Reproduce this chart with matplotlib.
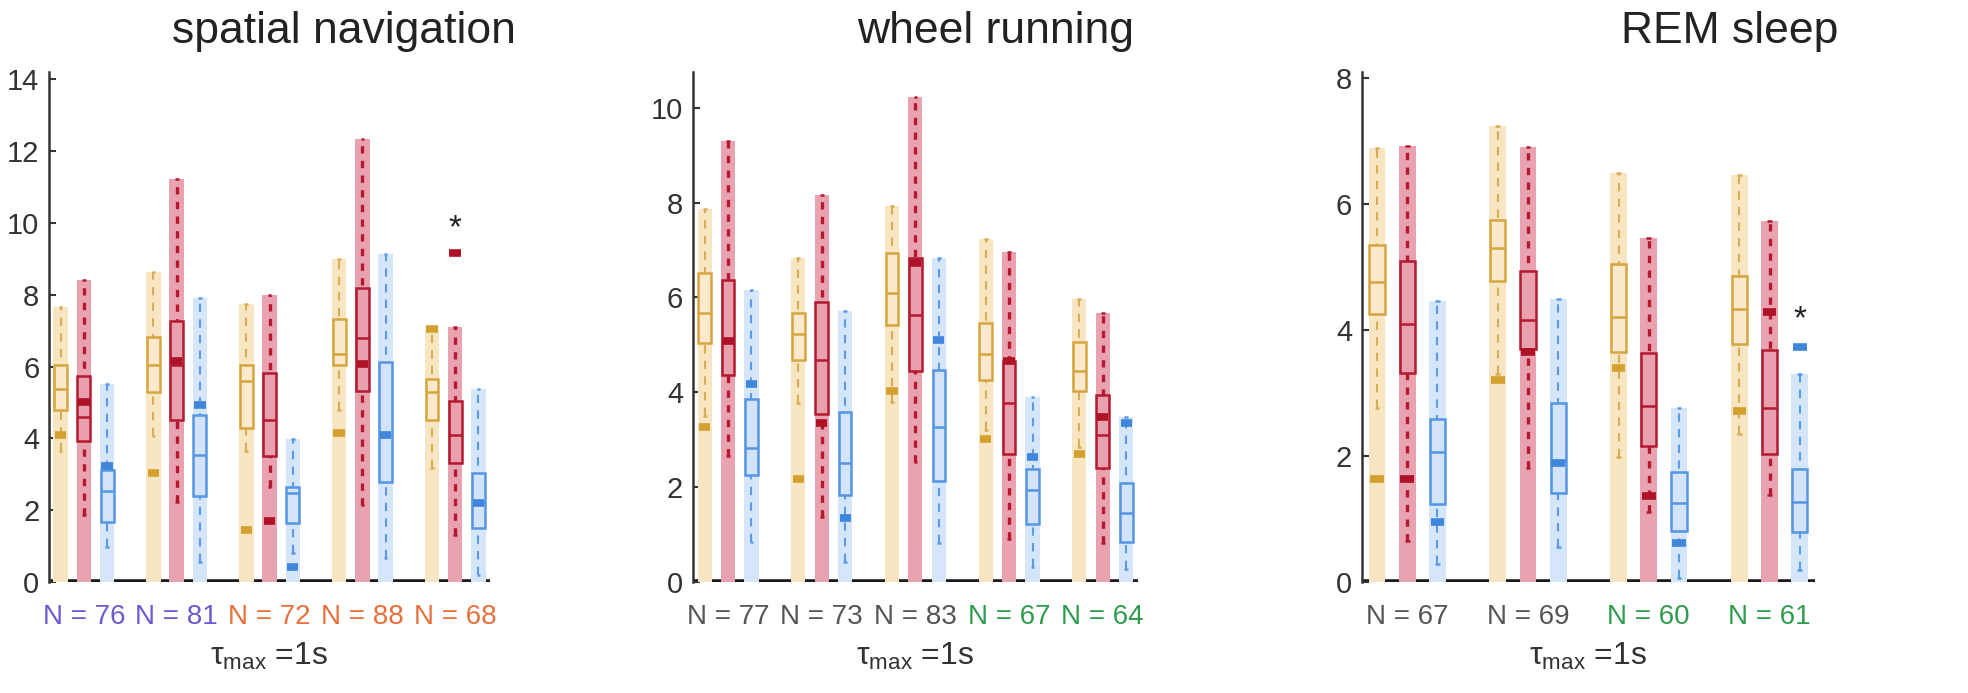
import matplotlib.pyplot as plt

plt.rcParams['font.family'] = ['Liberation Sans', 'DejaVu Sans']

# ---- data: per panel, per group -> [yellow, red, blue] ----
# spatial navigation
nav_lo  = [[3.64, 1.86, 0.97], [4.06, 2.23, 0.55], [3.64, 2.64, 0.81], [4.78, 2.15, 0.67], [3.18, 1.32, 0.20]]
nav_q1  = [[4.80, 3.92, 1.66], [5.30, 4.50, 2.39], [4.29, 3.52, 1.64], [6.05, 5.31, 2.78], [4.50, 3.33, 1.50]]
nav_med = [[5.38, 4.61, 2.55], [6.04, 6.05, 3.55], [5.59, 4.50, 2.48], [6.35, 6.79, 4.10], [5.28, 4.10, 2.20]]
nav_q3  = [[6.05, 5.75, 3.11], [6.82, 7.28, 4.66], [6.05, 5.82, 2.66], [7.32, 8.18, 6.12], [5.65, 5.03, 3.04]]
nav_hi  = [[7.65, 8.41, 5.52], [8.63, 11.22, 7.92], [7.74, 7.99, 3.99], [9.00, 12.34, 9.13], [7.05, 7.11, 5.38]]
nav_mk  = [[4.10, 5.02, 3.22], [3.04, 6.15, 4.94], [1.46, 1.69, 0.41], [4.15, 6.08, 4.10], [7.05, 9.15, 2.20]]
nav_n = [76, 81, 72, 88, 68]
nav_ncol = ['#6a5cd0', '#6a5cd0', '#e8703a', '#e8703a', '#e8703a']
nav_star = [(4, 1, 9.85)]

# wheel running
whl_lo  = [[3.50, 2.66, 0.85], [3.77, 1.38, 0.43], [3.80, 2.54, 0.82], [3.20, 0.90, 0.32], [2.85, 0.83, 0.27]]
whl_q1  = [[5.05, 4.37, 2.26], [4.68, 3.54, 1.84], [5.42, 4.46, 2.14], [4.25, 2.71, 1.22], [4.02, 2.40, 0.85]]
whl_med = [[5.68, 5.10, 2.82], [5.23, 4.68, 2.52], [6.10, 5.63, 3.26], [4.81, 3.78, 1.94], [4.44, 3.10, 1.46]]
whl_q3  = [[6.51, 6.36, 3.87], [5.67, 5.91, 3.59], [6.93, 6.83, 4.47], [5.46, 4.65, 2.38], [5.07, 3.95, 2.08]]
whl_hi  = [[7.86, 9.30, 6.15], [6.83, 8.16, 5.72], [7.92, 10.22, 6.83], [7.23, 6.95, 3.90], [5.96, 5.68, 3.47]]
whl_mk  = [[3.27, 5.08, 4.17], [2.17, 3.36, 1.36], [4.02, 6.72, 5.11], [3.01, 4.67, 2.63], [2.69, 3.47, 3.36]]
whl_n = [77, 73, 83, 67, 64]
whl_ncol = ['#555555', '#555555', '#555555', '#2e9c4e', '#2e9c4e']
whl_star = []

# REM sleep
rem_lo  = [[2.77, 0.65, 0.29], [3.30, 1.81, 0.56], [1.99, 1.12, 0.07], [2.35, 1.39, 0.20]]
rem_q1  = [[4.26, 3.32, 1.24], [4.78, 3.70, 1.41], [3.65, 2.16, 0.81], [3.78, 2.04, 0.79]]
rem_med = [[4.76, 4.10, 2.06], [5.31, 4.16, 1.92], [4.21, 2.80, 1.25], [4.34, 2.77, 1.27]]
rem_q3  = [[5.35, 5.10, 2.59], [5.75, 4.94, 2.84], [5.05, 3.64, 1.75], [4.86, 3.69, 1.80]]
rem_hi  = [[6.90, 6.92, 4.46], [7.24, 6.91, 4.50], [6.50, 5.46, 2.76], [6.46, 5.74, 3.30]]
rem_mk  = [[1.64, 1.64, 0.96], [3.21, 3.66, 1.89], [3.40, 1.36, 0.62], [2.72, 4.29, 3.73]]
rem_n = [67, 69, 60, 61]
rem_ncol = ['#555555', '#555555', '#2e9c4e', '#2e9c4e']
rem_star = [(3, 2, 4.16)]

STYLE = [
    dict(bar='#f8e5c2', box='#fae9cc', edge='#d6a63e', line='#d9ad55', mark='#d4a030', lw=1.5, dash=(4.0, 3.5)),
    dict(bar='#e9a3b0', box='#e8a0ae', edge='#b3192f', line='#b3192f', mark='#ad1227', lw=2.4, dash=(2.2, 2.2)),
    dict(bar='#d5e6fa', box='#d3e4fa', edge='#5596e4', line='#5b9be6', mark='#3f86dc', lw=1.5, dash=(4.0, 3.5)),
]


def draw_panel(ax, lo, q1, med, q3, hi, mk, n_vals, n_cols, stars, ymax, yticks, bar_w):
    box_w = bar_w * 0.9
    ax.axhline(0, color='#1a1a1a', lw=4, zorder=1)
    for g in range(len(lo)):
        for k in range(3):
            x = 4 * g + k
            s = STYLE[k]
            ax.bar(x, hi[g][k], width=bar_w, color=s['bar'], zorder=2)
            ax.plot([x, x], [lo[g][k], hi[g][k]], color=s['line'], lw=s['lw'],
                    linestyle=(0, s['dash']), zorder=3)
            ax.hlines([lo[g][k], hi[g][k]], x - 0.08, x + 0.08, color=s['line'], lw=1.8, zorder=3)
            ax.bar(x, q3[g][k] - q1[g][k], bottom=q1[g][k], width=box_w,
                   facecolor=s['box'], edgecolor=s['edge'], lw=1.8, zorder=4)
            ax.hlines(med[g][k], x - box_w / 2, x + box_w / 2, color=s['edge'], lw=1.8, zorder=5)
            ax.hlines(mk[g][k], x - bar_w * 0.4, x + bar_w * 0.4, color=s['mark'], lw=5.5, zorder=6)
        ax.text(4 * g + 1, -0.082, 'N = %d' % n_vals[g], color=n_cols[g], fontsize=20,
                ha='center', va='baseline', transform=ax.get_xaxis_transform())
    for g, k, y in stars:
        ax.text(4 * g + k, y, '*', fontsize=24, ha='center', va='center', color='#222222', zorder=7)

    ax.set_xlim(-0.5, 4 * len(lo) - 1.5)
    ax.set_ylim(0, ymax)
    ax.set_yticks(yticks)
    ax.set_xticks([])
    for side in ['top', 'right', 'bottom']:
        ax.spines[side].set_visible(False)
    ax.spines['left'].set_color('#333333')
    ax.spines['left'].set_linewidth(1.8)
    ax.tick_params(axis='y', direction='in', length=5, width=1.5, color='#333333',
                   labelsize=21, labelcolor='#333333', pad=7)
    ax.text(0.5, -0.163, r'$\mathregular{\tau_{max}}$ =1s', fontsize=23, color='#333333',
            ha='center', va='baseline', transform=ax.transAxes)


fig = plt.figure(figsize=(19.68, 6.93), dpi=100)
bottom, height = 0.160, 0.736
ax1 = fig.add_axes([0.0249, bottom, 0.2241, height])
ax2 = fig.add_axes([0.3521, bottom, 0.2261, height])
ax3 = fig.add_axes([0.6920, bottom, 0.2302, height])

draw_panel(ax1, nav_lo, nav_q1, nav_med, nav_q3, nav_hi, nav_mk, nav_n, nav_ncol, nav_star,
           14.2, [0, 2, 4, 6, 8, 10, 12, 14], 0.62)
draw_panel(ax2, whl_lo, whl_q1, whl_med, whl_q3, whl_hi, whl_mk, whl_n, whl_ncol, whl_star,
           10.75, [0, 2, 4, 6, 8, 10], 0.6)
draw_panel(ax3, rem_lo, rem_q1, rem_med, rem_q3, rem_hi, rem_mk, rem_n, rem_ncol, rem_star,
           8.1, [0, 2, 4, 6, 8], 0.56)

titles = ['spatial navigation', 'wheel running', 'REM sleep']
title_x = [0.175, 0.506, 0.879]
for t, x in zip(titles, title_x):
    fig.text(x, 0.938, t, fontsize=32, color='#222222', ha='center', va='baseline')

fig.savefig('out.png', dpi=100)
